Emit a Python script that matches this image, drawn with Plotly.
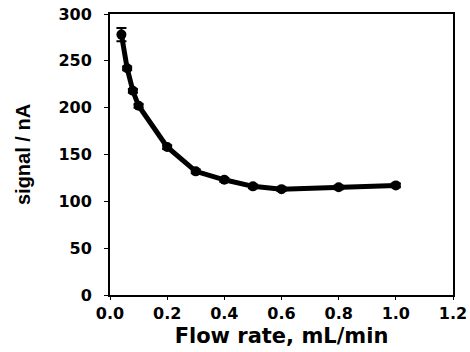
import plotly.graph_objects as go

flow_rate = [0.04, 0.06, 0.08, 0.10, 0.20, 0.30, 0.40, 0.50, 0.60, 0.80, 1.00]
signal = [278, 242, 218, 202, 158, 132, 123, 116, 113, 115, 117]
err = [7, 2, 2, 2, 2, 2, 2, 2, 2, 2, 2]

x_ticks = [0.0, 0.2, 0.4, 0.6, 0.8, 1.0, 1.2]
x_ticklabels = ["0.0", "0.2", "0.4", "0.6", "0.8", "1.0", "1.2"]
y_ticks = [0, 50, 100, 150, 200, 250, 300]

fig = go.Figure()
fig.add_trace(go.Scatter(
    x=flow_rate, y=signal, mode="lines+markers",
    line=dict(color="black", width=5),
    marker=dict(color="black", size=10, symbol="circle"),
    error_y=dict(type="data", array=err, color="black", thickness=2, width=5),
    showlegend=False,
))

tickfont = dict(family="DejaVu Sans", size=16, color="black", weight="bold")
fig.update_layout(
    width=470, height=352,
    margin=dict(l=110, r=17, t=14, b=57),
    paper_bgcolor="white", plot_bgcolor="white",
    xaxis=dict(
        range=[0, 1.2], tickvals=x_ticks, ticktext=x_ticklabels,
        showgrid=False, zeroline=False, automargin=False,
        showline=True, linecolor="black", linewidth=2, mirror=True,
        ticks="outside", ticklen=3, tickcolor="black", tickwidth=1,
        tickfont=tickfont,
        title=dict(text="Flow rate, mL/min", standoff=6,
                   font=dict(family="DejaVu Sans", size=21, color="black", weight="bold")),
    ),
    yaxis=dict(
        range=[0, 300], tickvals=y_ticks,
        showgrid=False, zeroline=False, automargin=False,
        showline=True, linecolor="black", linewidth=2, mirror=True,
        ticks="outside", ticklen=4, tickcolor="black", tickwidth=1,
        ticklabelstandoff=9,
        tickfont=tickfont,
        title=dict(text="signal / nA", standoff=22,
                   font=dict(family="Liberation Sans Narrow, Liberation Sans", size=20, color="black", weight="bold")),
    ),
)

fig.write_html("out.html")
